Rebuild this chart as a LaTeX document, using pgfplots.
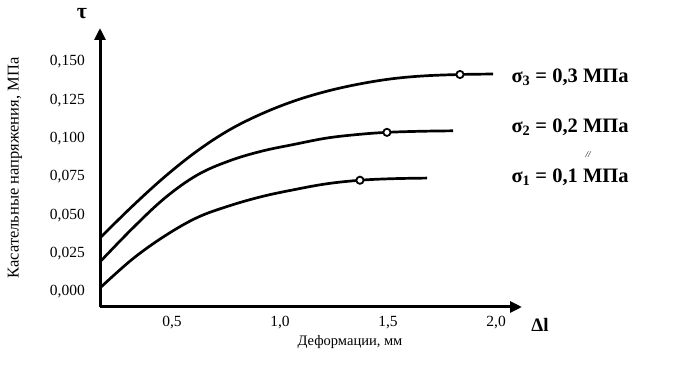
\documentclass[border=0pt]{standalone}
\usepackage{fontspec}
\setmainfont{Liberation Serif}
\usepackage{pgfplots}
\pgfplotsset{compat=1.18}
\usetikzlibrary{arrows.meta}
\begin{document}
\begin{tikzpicture}[x=1pt,y=1pt]
\path[use as bounding box] (0,0) rectangle (680,380);
\begin{axis}[
  at={(100pt,73pt)}, anchor=south west,
  scale only axis, width=422pt, height=279pt,
  xmin=0.167, xmax=2.12, ymin=-0.0098, ymax=0.172,
  axis lines=left,
  axis line style={line width=3pt, -{Triangle[length=12pt,width=11pt]}},
  xtick={0.5,1.0,1.5,2.0}, xticklabels={{0,5},{1,0},{1,5},{2,0}},
  ytick={0,0.025,0.05,0.075,0.1,0.125,0.15},
  yticklabels={{0,000},{0,025},{0,050},{0,075},{0,100},{0,125},{0,150}},
  major tick length=0pt,
  tick label style={font=\fontsize{15.5}{17}\selectfont},
  xticklabel style={anchor=center, yshift=-16pt},
  yticklabel style={anchor=east, inner sep=0pt, xshift=-15pt},
  clip=false,
]
\addplot[line width=2.7pt, smooth, tension=0.6] coordinates {
 (0.167,0.0352) (0.317,0.0559) (0.467,0.0751) (0.617,0.0919) (0.767,0.1057)
 (0.917,0.1162) (1.067,0.1245) (1.217,0.1308) (1.367,0.1355) (1.517,0.1389)
 (1.667,0.1408) (1.833,0.1417) (1.986,0.1420)};
\addplot[line width=2.7pt, smooth, tension=0.6] coordinates {
 (0.167,0.0196) (0.317,0.0414) (0.467,0.0612) (0.617,0.0762) (0.767,0.0855)
 (0.917,0.0918) (1.067,0.0962) (1.217,0.1003) (1.367,0.1027) (1.495,0.1040)
 (1.650,0.1047) (1.801,0.1050)};
\addplot[line width=2.7pt, smooth, tension=0.6] coordinates {
 (0.167,0.0026) (0.317,0.0214) (0.467,0.0365) (0.617,0.0485) (0.767,0.0562)
 (0.917,0.0622) (1.067,0.0667) (1.217,0.0705) (1.370,0.0728) (1.520,0.0738)
 (1.681,0.0742)};
\addplot[only marks, mark=*, mark size=3.6pt,
  mark options={fill=white, draw=black, line width=1.8pt}] coordinates {
 (1.833,0.1417) (1.495,0.1040) (1.370,0.0728)};
\end{axis}
\node[anchor=west, font=\fontsize{20.5}{23}\selectfont\bfseries] at (508,303) {σ\textsubscript{3} = 0,3 МПа};
\node[anchor=west, font=\fontsize{20.5}{23}\selectfont\bfseries] at (508,253) {σ\textsubscript{2} = 0,2 МПа};
\node[anchor=west, font=\fontsize{20.5}{23}\selectfont\bfseries] at (508,203) {σ\textsubscript{1} = 0,1 МПа};
\node[font=\fontsize{9}{9}\selectfont\itshape] at (588,225) {//};
\node[rotate=90, font=\fontsize{16.5}{18}\selectfont] at (15,212) {Касательные напряжения, МПа};
\node[font=\fontsize{14.5}{16}\selectfont] at (350,38) {Деформации, мм};
\node[font=\fontsize{19}{22}\selectfont\bfseries] at (540,55) {Δl};
\node[font=\fontsize{22}{24}\selectfont\bfseries] at (82,366) {τ};
\end{tikzpicture}
\end{document}
